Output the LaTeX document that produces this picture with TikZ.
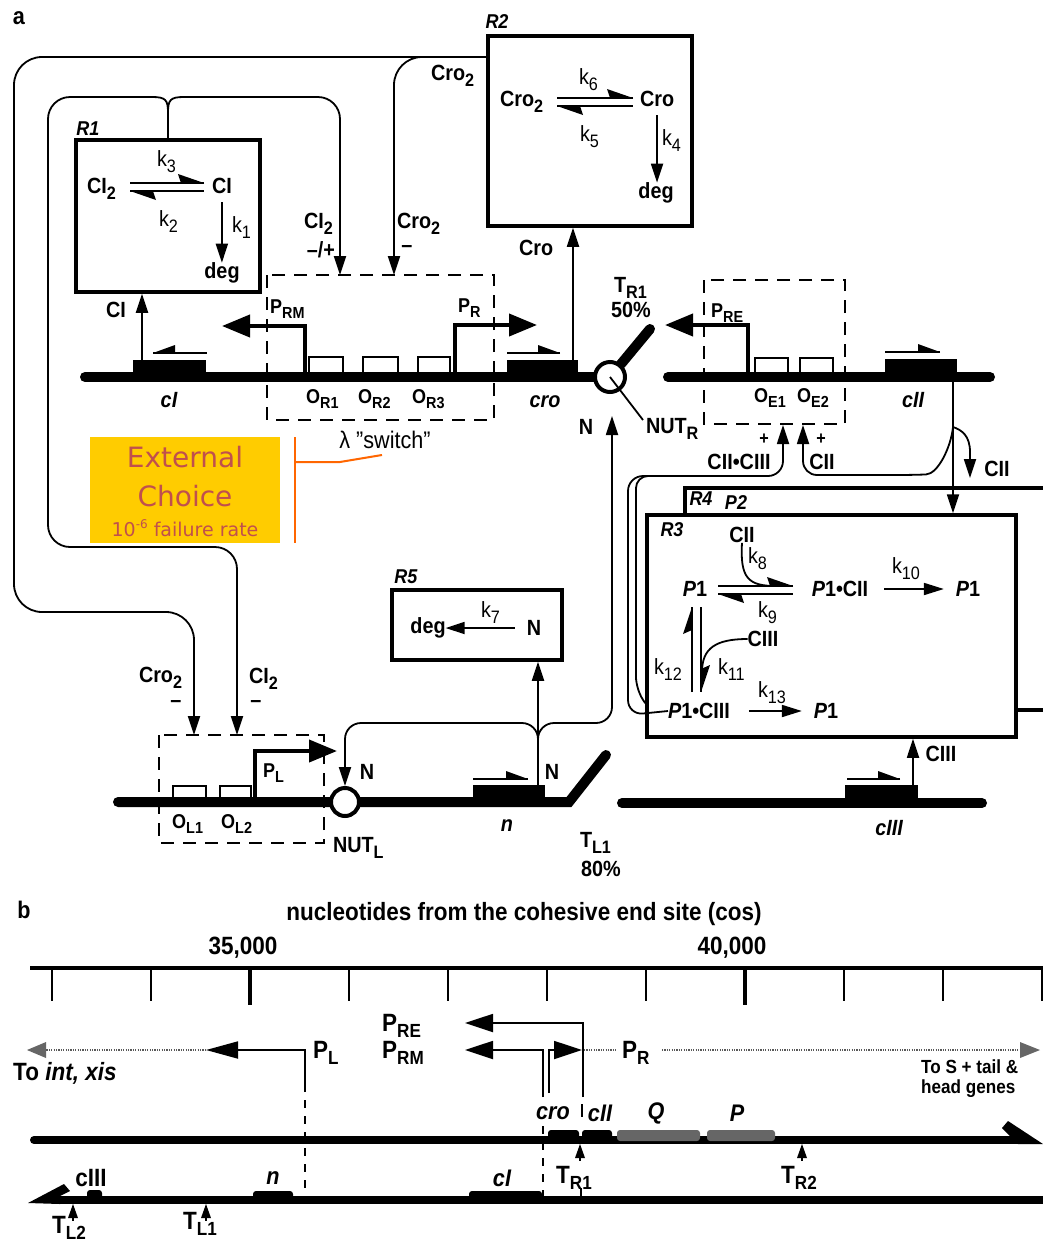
\documentclass[tikz,border=0pt]{standalone}
\usepackage{fontspec}
\setmainfont{Liberation Sans}[FakeStretch=0.9]
\newfontfamily\ecfont{DejaVu Sans}
\usetikzlibrary{arrows.meta}
\definecolor{ecyel}{RGB}{255,204,0}
\definecolor{ectxt}{RGB}{192,80,77}
\definecolor{ecor}{RGB}{255,102,0}
\newcommand\sbs[1]{\raisebox{-6pt}{\fontsize{18}{18}\selectfont #1}}
\newcommand\ssb[1]{\raisebox{-5pt}{\fontsize{16}{16}\selectfont #1}}
\newcommand\bsb[1]{\raisebox{-6pt}{\fontsize{19}{19}\selectfont #1}}
\newcommand\eqh[3]{%
  \draw[line width=1.6pt] (#1,#3) -- (#2,#3);
  \fill (#2,#3) -- ++(-26,-9) -- ++(3,9) -- cycle;
  \draw[line width=1.6pt] (#1,#3+8) -- (#2,#3+8);
  \fill (#1,#3+8) -- ++(26,9) -- ++(-3,-9) -- cycle;}
\newcommand\gar[3]{\draw[line width=1.8pt] (#1,#3) -- (#2,#3); \fill (#2,#3) -- ++(-22,-8) -- ++(0,8) -- cycle;}
\newcommand\gal[3]{\draw[line width=1.8pt] (#1,#3) -- (#2,#3); \fill (#1,#3) -- ++(22,-8) -- ++(0,8) -- cycle;}
\begin{document}
\begin{tikzpicture}[x=1pt,y=-1pt,
 conn/.style={line width=1.8pt},
 rg/.style={line width=1.8pt,-{Triangle[length=19pt,width=12pt]}},
 ka/.style={line width=1.8pt,-{Triangle[length=20pt,width=12pt]}},
 rbox/.style={draw,line width=3.5pt,inner sep=0pt},
 dna/.style={line width=10pt,line cap=round},
 prom/.style={line width=4pt,-{Triangle[length=28pt,width=22pt]}},
 opbox/.style={fill=white,draw,line width=2.5pt},
 dbox/.style={line width=1.6pt,dash pattern=on 13pt off 9pt},
 lab/.style={font=\fontsize{22}{24}\selectfont\bfseries,inner sep=0pt,outer sep=0pt},
 rlab/.style={font=\fontsize{20}{24}\selectfont\bfseries\itshape,inner sep=0pt},
 klab/.style={font=\fontsize{22}{24}\selectfont,inner sep=0pt,outer sep=0pt},
 glab/.style={font=\fontsize{22}{24}\selectfont\bfseries\itshape,inner sep=0pt},
 olab/.style={font=\fontsize{20}{22}\selectfont\bfseries,inner sep=0pt},
 blab/.style={font=\fontsize{25}{27}\selectfont\bfseries,inner sep=0pt},
 bglab/.style={font=\fontsize{24}{26}\selectfont\bfseries\itshape,inner sep=0pt},
 ectx/.style={font=\ecfont\fontsize{28}{30}\selectfont,text=ectxt,inner sep=0pt},
 pb/.style={line width=1.8pt,-{Triangle[length=32pt,width=17pt]}},
 hat/.style={line width=2.2pt,black!65,dash pattern=on 1.2pt off 1.2pt},
 bdash/.style={line width=1.5pt,dash pattern=on 8pt off 8pt},
]
\useasboundingbox[fill=white] (0,0) rectangle (1043,1243);
\coordinate (y57) at (0,57);
% ---------------- boxes
\node[rbox,minimum width=204pt,minimum height=190pt] (R2) at (590,131) {};
\node[rbox,minimum width=184pt,minimum height=152pt] (R1) at (168,216) {};
\node[rbox,minimum width=170pt,minimum height=70pt] (R5) at (477,625) {};
\draw[line width=3.5pt] (685,515) -- (685,488) -- (1050,488);
\draw[line width=3.5pt] (1016,710) -- (1050,710);
\node[rbox,minimum width=369pt,minimum height=222pt] (R3) at (831.5,626) {};
\node[font=\fontsize{24}{26}\selectfont\bfseries,inner sep=0pt] (la) at (19,18) {a};
\node[rlab] (lR2) at (497,22) {R2};
\node[rlab] (lR1) at (88,129) {R1};
\node[rlab] (lR3) at (672,530) {R3};
\node[rlab] (lR4) at (701,499) {R4};
\node[rlab] (lP2) at (736,503) {P2};
\node[rlab] (lR5) at (406,577) {R5};
% ---------------- R1 contents
\node[lab,anchor=base west] (r1a) at (87,193) {CI\sbs{2}};
\node[lab,anchor=base west] (r1b) at (212,193) {CI};
\eqh{130}{204}{183}
\node[klab,anchor=base west] (r1k3) at (157,166) {k\sbs{3}};
\node[klab,anchor=base west] (r1k2) at (159,226) {k\sbs{2}};
\node[klab,anchor=base west] (r1k1) at (232,232) {k\sbs{1}};
\node[lab] (r1deg) at (222,273) {deg};
\draw[rg] ([yshift=-9pt]r1b.south) -- (r1b.south |- r1deg.north);
% ---------------- R2 contents
\node[lab,anchor=base west] (r2a) at (500,106) {Cro\sbs{2}};
\node[lab,anchor=base west] (r2b) at (640,106) {Cro};
\eqh{557}{633}{98}
\node[klab,anchor=base west] (r2k6) at (579,84) {k\sbs{6}};
\node[klab,anchor=base west] (r2k5) at (580,141) {k\sbs{5}};
\node[klab,anchor=base west] (r2k4) at (662,145) {k\sbs{4}};
\node[lab] (r2deg) at (656,193) {deg};
\draw[rg] ([yshift=-9pt]r2b.south) -- (r2b.south |- r2deg.north);
% ---------------- R5 contents
\node[lab] (r5deg) at (428,628) {deg};
\node[lab] (r5N) at (534,628) {N};
\node[klab,anchor=base west] (r5k7) at (481,617) {k\sbs{7}};
\draw[rg,shorten <=12pt] (r5N.west) -- (r5deg.east);
% ---------------- R3 contents
\node[lab] (c2) at (742,535) {CII};
\node[klab,anchor=base west] (k8) at (748,563) {k\sbs{8}};
\node[lab] (p1a) at (695,589) {\textit{P}1};
\eqh{718}{793}{586}
\node[lab] (p1c2) at (840,589) {\textit{P}1•CII};
\node[lab] (p1b) at (968,589) {\textit{P}1};
\draw[ka,shorten <=16pt,shorten >=12pt] (p1c2.east) -- (p1b.west);
\node[klab,anchor=base west] (k10) at (892,573) {k\sbs{10}};
\node[klab,anchor=base west] (k9) at (758,617) {k\sbs{9}};
\draw[conn] (c2.south) .. controls (740,578) and (748,586) .. (776,586);
\draw[line width=1.6pt] (692,692) -- (692,607);
\fill (692,607) -- (683,634) -- (692,630) -- cycle;
\draw[line width=1.6pt] (701,607) -- (701,692);
\fill (701,692) -- (710,665) -- (701,669) -- cycle;
\node[lab] (c3) at (763,639) {CIII};
\draw[conn] (c3.west) .. controls (716,639) and (702,648) .. (702,672);
\node[klab,anchor=base west] (k12) at (654,674) {k\sbs{12}};
\node[klab,anchor=base west] (k11) at (718,674) {k\sbs{11}};
\node[klab,anchor=base west] (k13) at (758,697) {k\sbs{13}};
\node[lab] (p1c3) at (699,711) {\textit{P}1•CIII};
\node[lab] (p1c) at (826,711) {\textit{P}1};
\draw[ka,shorten <=19pt,shorten >=12pt] (p1c3.east) -- (p1c.west);
% ---------------- long connectors top
\draw[rg,rounded corners=28pt] (R2.west |- y57) -- (14,57) -- (14,612) -- (194,612) -- (194,735);
\draw[rg,rounded corners=28pt] (440,57) -- (394,57) -- (394,275);
\draw[rg] (R1.north) -- (168,113) .. controls (168,100) and (166,97) .. (152,97) [rounded corners=22pt] -- (48,97) -- (48,547) -- (237,547) -- (237,735);
\draw[rg] (R1.north) -- (168,113) .. controls (168,100) and (170,97) .. (184,97) [rounded corners=22pt] -- (340,97) -- (340,275);
\node[lab,anchor=base west] (cro2u) at (431,80) {Cro\sbs{2}};
\node[lab,anchor=base west] (ci2s) at (304,228) {CI\sbs{2}};
\node[lab] (ci2sm) at (321,250) {\textendash/+};
\node[lab,anchor=base west] (cro2s) at (397,228) {Cro\sbs{2}};
\node[lab] (cro2sm) at (407,249) {\textendash};
% ---------------- top DNA
\draw[dna] (85,377) -- (597,377);
\draw[dna] (668,377) -- (990,377);
\draw[dna] (621,364) -- (650,329);
\fill (133,360) rectangle (206,377);
\fill (507,360) rectangle (578,377);
\fill (885,359) rectangle (957,377);
\gal{153}{207}{353}
\gar{507}{560}{353}
\gar{885}{940}{352}
\draw[opbox] (309,357) rectangle (343,373);
\draw[opbox] (363,357) rectangle (398,373);
\draw[opbox] (418,357) rectangle (450,373);
\draw[opbox] (755,358) rectangle (788,373);
\draw[opbox] (800,358) rectangle (833,373);
\draw[prom] (305,373) -- (305,326) -- (222,326);
\draw[prom] (455,373) -- (455,325) -- (537,325);
\draw[prom] (748,373) -- (748,325) -- (665,325);
\draw[dbox] (267,275) rectangle (494,420);
\draw[dbox] (704,280) rectangle (845,424);
\node[circle,draw,fill=white,line width=4pt,minimum size=30pt,inner sep=0pt] (nutr) at (610,377) {};
\draw[line width=1.8pt] (nutr.center) -- (643,420);
\coordinate (ciG) at (142,360);
\draw[rg] (ciG) -- (ciG |- R1.south);
\coordinate (croG) at (573,360);
\draw[rg] (croG) -- (croG |- R2.south);
\node[lab,anchor=base west] (lci) at (106,317) {CI};
\node[lab,anchor=base west] (lcro) at (519,255) {Cro};
\node[olab,anchor=base west] (pRM) at (270,313) {P\ssb{RM}};
\node[olab,anchor=base west] (pR) at (458,312) {P\ssb{R}};
\node[olab,anchor=base west] (pRE) at (711,317) {P\ssb{RE}};
\node[olab,anchor=base west] (oR1) at (306,403) {O\ssb{R1}};
\node[olab,anchor=base west] (oR2) at (358,403) {O\ssb{R2}};
\node[olab,anchor=base west] (oR3) at (412,403) {O\ssb{R3}};
\node[olab,anchor=base west] (oE1) at (754,402) {O\ssb{E1}};
\node[olab,anchor=base west] (oE2) at (797,402) {O\ssb{E2}};
\node[glab] (gci) at (169,400) {cI};
\node[glab] (gcro) at (545,402) {cro};
\node[glab] (gcii) at (913,400) {cII};
\node[klab,font=\fontsize{24}{26}\selectfont] (sw) at (385,440) {λ "switch"};
\node[lab,anchor=base west] (tr1) at (614,292) {T\sbs{R1}};
\node[lab] (p50) at (631,310) {50\%};
\node[lab,anchor=base west] (nutrl) at (646,433) {NUT\sbs{R}};
\node[lab] (nr) at (586,427) {N};
% ---------------- CII connectors
\coordinate (cIIj) at (953,427);
\draw[rg] (953,382) -- (R3.north -| cIIj);
\draw[rg,rounded corners=14pt] (cIIj) .. controls (951,447) and (938,474) .. (912,475) -- (803,475) -- (803,425);
\draw[rg] (cIIj) .. controls (962,430) and (970,436) .. (970,452) -- (970,478);
\draw[rg,rounded corners=15pt] (p1c3.west) -- (628,715) -- (628,476) -- (783,476) -- (783,425);
\draw[conn,rounded corners=12pt] (R3.west |- p1c3.north) -- (636,689) -- (636,476) -- (700,476);
\node[lab,font=\fontsize{18}{20}\selectfont\bfseries] (pl1) at (764,439) {+};
\node[lab] (c2c3) at (739,462) {CII•CIII};
\node[lab,font=\fontsize{18}{20}\selectfont\bfseries] (pl2) at (821,439) {+};
\node[lab] (c2a) at (822,462) {CII};
\node[lab] (c2b) at (997,469) {CII};
% ---------------- cIII
\draw[dna] (622,803) -- (982,803);
\fill (845,785) rectangle (918,803);
\gar{847}{900}{779}
\coordinate (c3G) at (913,785);
\draw[rg] (c3G) -- (c3G |- R3.south);
\node[lab] (c3l) at (941,754) {CIII};
\node[glab] (gc3) at (889,828) {cIII};
% ---------------- lower left DNA
\draw[dbox] (159,735) rectangle (324,843);
\draw[line width=10pt,line cap=round,line join=miter] (118,802) -- (569,802) -- (606,755);
\fill (473,785) rectangle (545,802);
\gar{473}{528}{779}
\draw[opbox] (173,786) rectangle (206,798);
\draw[opbox] (220,786) rectangle (251,798);
\draw[prom] (255,798) -- (255,751) -- (337,751);
\node[circle,draw,fill=white,line width=4pt,minimum size=28pt,inner sep=0pt] (nutl) at (345,802) {};
\coordinate (nG) at (538,785);
\draw[rg] (nG) -- (nG |- R5.south);
\draw[rg,rounded corners=16pt] (538,750) -- (538,723) -- (345,723) -- (nutl.north);
\draw[rg,rounded corners=16pt] (538,750) -- (538,723) -- (612,723) -- (612,416);
\node[lab,anchor=base west] (cro2l) at (139,682) {Cro\sbs{2}};
\node[lab] (cro2lm) at (176,704) {\textendash};
\node[lab,anchor=base west] (ci2l) at (249,683) {CI\sbs{2}};
\node[lab] (ci2lm) at (256,704) {\textendash};
\node[olab,anchor=base west] (pL) at (263,777) {P\ssb{L}};
\node[lab] (nl1) at (367,772) {N};
\node[lab] (nl2) at (552,772) {N};
\node[lab,anchor=base west] (nutll) at (333,852) {NUT\sbs{L}};
\node[olab,anchor=base west] (oL1) at (172,828) {O\ssb{L1}};
\node[olab,anchor=base west] (oL2) at (221,828) {O\ssb{L2}};
\node[glab] (gn) at (507,826) {n};
\node[lab,anchor=base west] (tl1) at (580,847) {T\sbs{L1}};
\node[lab] (p80) at (601,869) {80\%};
% ---------------- external choice
\node[fill=ecyel,minimum width=190pt,minimum height=106pt,inner sep=0pt] (ec) at (185,490) {};
\node[ectx] (ec1) at (185,457) {External};
\node[ectx] (ec2) at (185,496) {Choice};
\node[ectx,font=\ecfont\fontsize{19}{20}\selectfont] (ec3) at (185,528) {10\raisebox{8pt}{\fontsize{12}{12}\selectfont -6} failure rate};
\draw[ecor,line width=2.5pt] (295,437) -- (295,543);
\draw[ecor,line width=2pt] (295,462) -- (340,462) -- (382,455);
% ================= part b
\node[font=\fontsize{24}{26}\selectfont\bfseries,inner sep=0pt] (lb) at (24,910) {b};
\node[blab] (title) at (524,914) {nucleotides from the cohesive end site (cos)};
\node[blab] (n35) at (243,948) {35,000};
\node[blab] (n40) at (732,948) {40,000};
\draw[line width=3.5pt] (30,968) -- (1043,968);
\foreach \i in {0,...,10} {\draw[line width=1.5pt] ({52+99*\i},968) -- ({52+99*\i},1001);}
\draw[line width=4pt] (250,968) -- (250,1005);
\draw[line width=4pt] (745,968) -- (745,1005);
\draw[hat] (44,1050) -- (206,1050);
\fill[black!60] (27,1050) -- (46,1042) -- (46,1058) -- cycle;
\draw[pb] (305,1092) -- (305,1050) -- (206,1050);
\draw[bdash] (305,1100) -- (305,1197);
\node[blab,anchor=base west] (bpL) at (313,1058) {P\bsb{L}};
\node[blab,anchor=base west] (bpRE) at (382,1031) {P\bsb{RE}};
\node[blab,anchor=base west] (bpRM) at (382,1058) {P\bsb{RM}};
\draw[pb,-{Triangle[length=28pt,width=18pt]}] (583,1097) -- (583,1023) -- (465,1023);
\draw[pb,-{Triangle[length=28pt,width=18pt]}] (543,1097) -- (543,1050) -- (465,1050);
\draw[line width=1.8pt,-{Triangle[length=28pt,width=18pt]}] (549,1093) -- (549,1050) -- (582,1050);
\draw[hat] (584,1050) -- (617,1050);
\draw[hat] (662,1050) -- (1022,1050);
\fill[black!60] (1040,1050) -- (1020,1042) -- (1020,1058) -- cycle;
\node[blab,anchor=base west] (bpR) at (622,1058) {P\bsb{R}};
\node[blab,anchor=base west] (toint) at (13,1080) {To \textit{int, xis}};
\node[font=\fontsize{19}{20}\selectfont\bfseries,inner sep=0pt,anchor=base west] (tos1) at (921,1073) {To S + tail \&};
\node[font=\fontsize{19}{20}\selectfont\bfseries,inner sep=0pt,anchor=base west] (tos2) at (921,1093) {head genes};
\draw[line width=8pt,line cap=round] (34,1140) -- (1025,1140);
\fill (1043,1144) -- (1008,1121) -- (1002,1128) -- (1018,1144) -- cycle;
\draw[line width=8pt] (60,1200) -- (1043,1200);
\fill (28,1203) -- (64,1184) -- (70,1191) -- (60,1196) -- (60,1204) -- cycle;
\fill[rounded corners=3pt] (548,1130) rectangle (579,1141);
\fill[rounded corners=3pt] (582,1130) rectangle (612,1141);
\fill[black!60,rounded corners=3pt] (617,1130) rectangle (700,1141);
\fill[black!60,rounded corners=3pt] (707,1130) rectangle (775,1141);
\fill[rounded corners=3pt] (87,1190) rectangle (102,1201);
\fill[rounded corners=3pt] (253,1191) rectangle (293,1201);
\fill[rounded corners=3pt] (469,1191) rectangle (542,1201);
\draw[bdash] (543,1126) -- (543,1197);
\draw[line width=1.5pt] (582,1104) -- (582,1117);
\draw[line width=1.5pt] (581,1188) -- (581,1198);
\foreach \x/\yy in {580/1144, 802/1144, 73/1204, 206/1204} {\fill (\x,\yy) -- (\x-5,\yy+14) -- (\x+5,\yy+14) -- cycle; \draw[line width=1.5pt] (\x,\yy+10) -- (\x,\yy+17);}
\node[bglab] (bcro) at (553,1113) {cro};
\node[bglab] (bcii) at (600,1113) {cII};
\node[bglab] (bq) at (656,1113) {Q};
\node[bglab] (bp) at (737,1113) {P};
\node[blab,anchor=base west] (btr1) at (556,1183) {T\bsb{R1}};
\node[blab,anchor=base west] (btr2) at (781,1183) {T\bsb{R2}};
\node[blab] (bc3) at (91,1178) {cIII};
\node[bglab] (bn) at (273,1178) {n};
\node[bglab] (bci) at (502,1178) {cI};
\node[blab,anchor=base west] (btl2) at (52,1233) {T\bsb{L2}};
\node[blab,anchor=base west] (btl1) at (183,1229) {T\bsb{L1}};
\end{tikzpicture}
\end{document}
